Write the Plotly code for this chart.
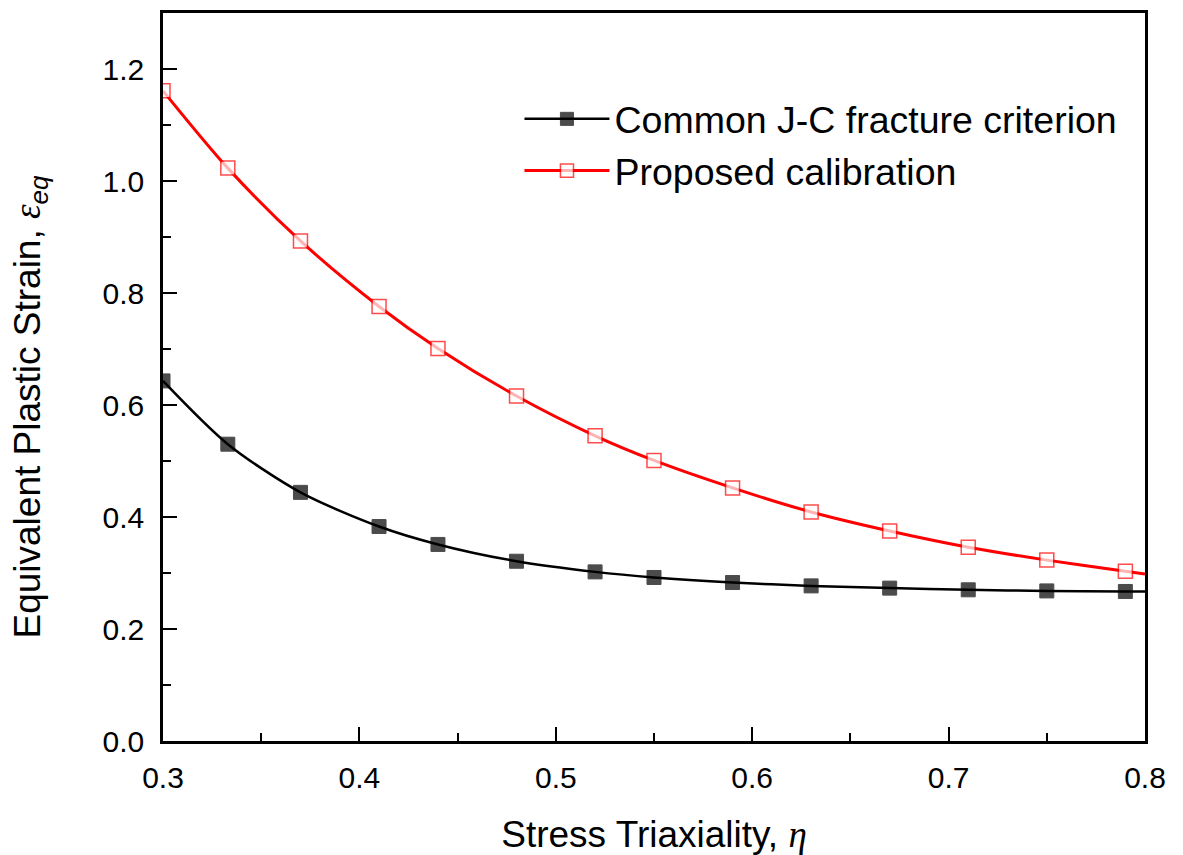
import plotly.graph_objects as go

# Stress triaxiality at which curves were sampled (last point = curve end, no marker)
eta = [0.3, 0.333, 0.37, 0.41, 0.44, 0.48, 0.52, 0.55, 0.59, 0.63, 0.67, 0.71, 0.75, 0.79, 0.8]
common_jc = [0.643, 0.530, 0.444, 0.383, 0.351, 0.321, 0.302, 0.292, 0.283, 0.277,
             0.273, 0.270, 0.268, 0.267, 0.267]
proposed = [1.161, 1.023, 0.893, 0.776, 0.701, 0.616, 0.545, 0.501, 0.452, 0.409,
            0.375, 0.346, 0.323, 0.303, 0.298]
names = ["Common J-C fracture criterion", "Proposed calibration"]

x_ticks = [0.3, 0.4, 0.5, 0.6, 0.7, 0.8]
y_ticks = [0.0, 0.2, 0.4, 0.6, 0.8, 1.0, 1.2]

FONT = "Liberation Sans, Arial, sans-serif"
MS = 14
sizes = [MS] * (len(eta) - 1) + [0]

fig = go.Figure()
fig.add_trace(go.Scatter(
    x=eta, y=common_jc, name=names[0], mode="lines+markers",
    line=dict(color="black", width=2.5, shape="spline", smoothing=0.8),
    marker=dict(symbol="square", size=sizes, color="black",
                line=dict(color="black", width=1)),
))
fig.add_trace(go.Scatter(
    x=eta, y=proposed, name=names[1], mode="lines+markers",
    line=dict(color="#ff0000", width=3, shape="spline", smoothing=0.8),
    marker=dict(symbol="square", size=sizes, color="white",
                line=dict(color="#ff0000", width=1.5)),
))

axis_common = dict(
    showgrid=False, zeroline=False, showline=True, linecolor="black", linewidth=2.5,
    mirror=True, ticks="inside", ticklen=14, tickwidth=2, tickcolor="black",
    tickfont=dict(family=FONT, size=30, color="black"), automargin=False,
)

fig.update_layout(
    width=1183, height=855,
    margin=dict(l=163, r=38, t=13, b=114),
    paper_bgcolor="white", plot_bgcolor="white",
    showlegend=True,
    legend=dict(x=0.363, y=0.897, xanchor="left", yanchor="top",
                bgcolor="rgba(0,0,0,0)", borderwidth=0,
                font=dict(family=FONT, size=37.5, color="black"),
                itemwidth=85, tracegroupgap=0),
    xaxis=dict(range=[0.3, 0.8], tickvals=x_ticks, ticktext=[f"{v:.1f}" for v in x_ticks],
               minor=dict(dtick=0.05, ticks="inside", ticklen=8, tickwidth=2, tickcolor="black"),
               title=dict(text="Stress Triaxiality, <span style=\"font-family:'Liberation Serif'\"><i>η</i></span>",
                          font=dict(family=FONT, size=37, color="black"), standoff=37),
               ticklabelstandoff=8,
               **axis_common),
    yaxis=dict(range=[0, 1.3], tickvals=y_ticks, ticktext=[f"{v:.1f}" for v in y_ticks],
               minor=dict(dtick=0.1, ticks="inside", ticklen=8, tickwidth=2, tickcolor="black"),
               ticklabelstandoff=10,
               **axis_common),
    annotations=[dict(
        text="Equivalent Plastic Strain, <span style=\"font-family:'Liberation Serif'\"><i>ε</i></span><sub><i>eq</i></sub>",
        xref="paper", yref="paper", x=-0.135, y=0.46, xanchor="center", yanchor="middle",
        textangle=-90, showarrow=False, font=dict(family=FONT, size=37, color="black"),
    )],
)

fig.write_html("out.html")
